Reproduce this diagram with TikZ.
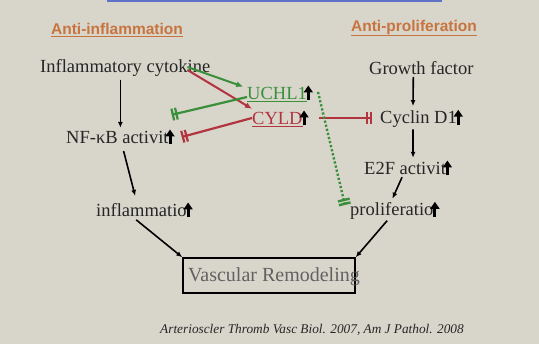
\documentclass[tikz,border=0pt]{standalone}
\usepackage{fontspec}
\setmainfont{Liberation Serif}
\newfontfamily\headfont{Liberation Sans}
\usepackage{xcolor}
\usetikzlibrary{arrows.meta, positioning}

\definecolor{bgcol}{HTML}{D8D5CB}
\definecolor{txtcol}{HTML}{262626}
\definecolor{headcol}{HTML}{C8743F}
\definecolor{grcol}{HTML}{3A8F3A}
\definecolor{rdcol}{HTML}{B2343F}
\definecolor{titlecol}{HTML}{5F72C8}

% thick black up arrow after a label
\newcommand{\upmark}{\hspace{-3pt}\tikz[baseline=0pt]\draw[black, line width=3pt,-{Triangle[width=9pt,length=7pt]}] (0pt,-1pt) -- (0pt,14pt);}

\begin{document}
\begin{tikzpicture}[
    x=1pt, y=-1pt,
    label/.style={
        font=\fontsize{18.5}{21}\selectfont,
        text=txtcol,
        inner sep=0pt,
        anchor=west
    },
    head/.style={
        font=\headfont\bfseries\fontsize{15.5}{18}\selectfont,
        text=headcol,
        inner sep=0pt
    },
    pathway/.style={-{Latex[length=6pt,width=5pt]}, line width=1.6pt, black},
    actgreen/.style={-{Latex[length=7pt,width=6pt]}, line width=2pt, grcol},
    actred/.style={-{Latex[length=7pt,width=6pt]}, line width=2pt, rdcol},
    inhgreen/.style={-{Bar[width=12pt,sep=1.5pt]Bar[width=12pt]}, line width=2.2pt, grcol},
    inhred/.style={-{Bar[width=12pt,sep=1.5pt]Bar[width=12pt]}, line width=2.2pt, rdcol}
]
    \fill[bgcol] (0,0) rectangle (539,344);
    \useasboundingbox (0,0) rectangle (539,344);
    \draw[titlecol, line width=3pt] (107,1) -- (442,1);

    \node[head] (antiinf) at (117,30) {\underline{Anti-inflammation}};
    \node[head] (antipro) at (414,28) {\underline{Anti-proliferation}};

    % left column
    \node[label] (cytok) at (40,68) {Inflammatory cytokine};
    \node[label] (nfkb) at (66,137) {NF-κB activit\upmark};
    \node[label] (inflam) at (96,210) {inflammatio\upmark};

    % right column
    \node[label] (growth) at (369,68) {Growth factor};
    \node[label] (cyclin) at (380,118) {Cyclin D1\upmark};
    \node[label] (e2f) at (364,168) {E2F activit\upmark};
    \node[label] (prolif) at (350,210) {proliferatio\upmark};

    % middle
    \node[label, text=grcol] (uchl) at (247,93) {\underline{UCHL1}\upmark};
    \node[label, text=rdcol] (cyld) at (252,118) {\underline{CYLD}\upmark};

    \node[draw=black, line width=1.4pt, minimum width=172, minimum height=35, inner sep=0pt] (remod) at (269,275.5) {};
    \node[label, font=\fontsize{20}{24}\selectfont, text=black!62] (remodtxt) at (188,277) {Vascular Remodeling};

    \node[font=\itshape\fontsize{13.3}{16}\selectfont, text=txtcol, inner sep=0pt] (cite) at (312,330) {Arterioscler Thromb Vasc Biol. 2007, Am J Pathol. 2008};

    % black pathways
    \draw[pathway, shorten <=3pt] (cytok.south -| nfkb.north) -- (nfkb.north);
    \draw[pathway, shorten <=5pt, shorten >=5pt] ([xshift=2pt]nfkb.south) -- ([xshift=-8pt]inflam.north);
    \draw[pathway, shorten <=1pt] ([xshift=-9pt]inflam.south) -- (remod.north west);
    \draw[pathway, shorten <=1pt] ([xshift=-7pt]prolif.south) -- (remod.north east);
    \draw[pathway, shorten <=2pt, shorten >=2pt] ([xshift=-8pt]growth.south) -- ([xshift=-8.5pt]cyclin.north);
    \draw[pathway, shorten <=1.5pt, shorten >=1pt] ([xshift=-8.5pt]cyclin.south) -- ([xshift=5pt]e2f.north);
    \draw[pathway, shorten >=1.5pt] ([xshift=-6pt]e2f.south) -- ([xshift=-3pt]prolif.north);

    % UCHL1 / CYLD
    \draw[actgreen, shorten >=4pt] ([xshift=-23pt, yshift=1pt]cytok.east) -- ([yshift=5pt]uchl.west);
    \draw[actred] ([xshift=-23pt, yshift=-2pt]cytok.east) -- (cyld.north west);
    \draw[inhgreen] ([yshift=-4pt]uchl.west) -- ([xshift=-3pt, yshift=13pt]nfkb.north east);
    \draw[inhred] (cyld.west) -- ([xshift=7pt]nfkb.east);
    \draw[inhred] ([xshift=10pt]cyld.east) -- ([xshift=-8pt]cyclin.west);
    \draw[inhgreen, dotted, line width=2.4pt] ([xshift=5pt, yshift=1pt]uchl.east) -- ([xshift=-5pt, yshift=5pt]prolif.west);
\end{tikzpicture}
\end{document}
